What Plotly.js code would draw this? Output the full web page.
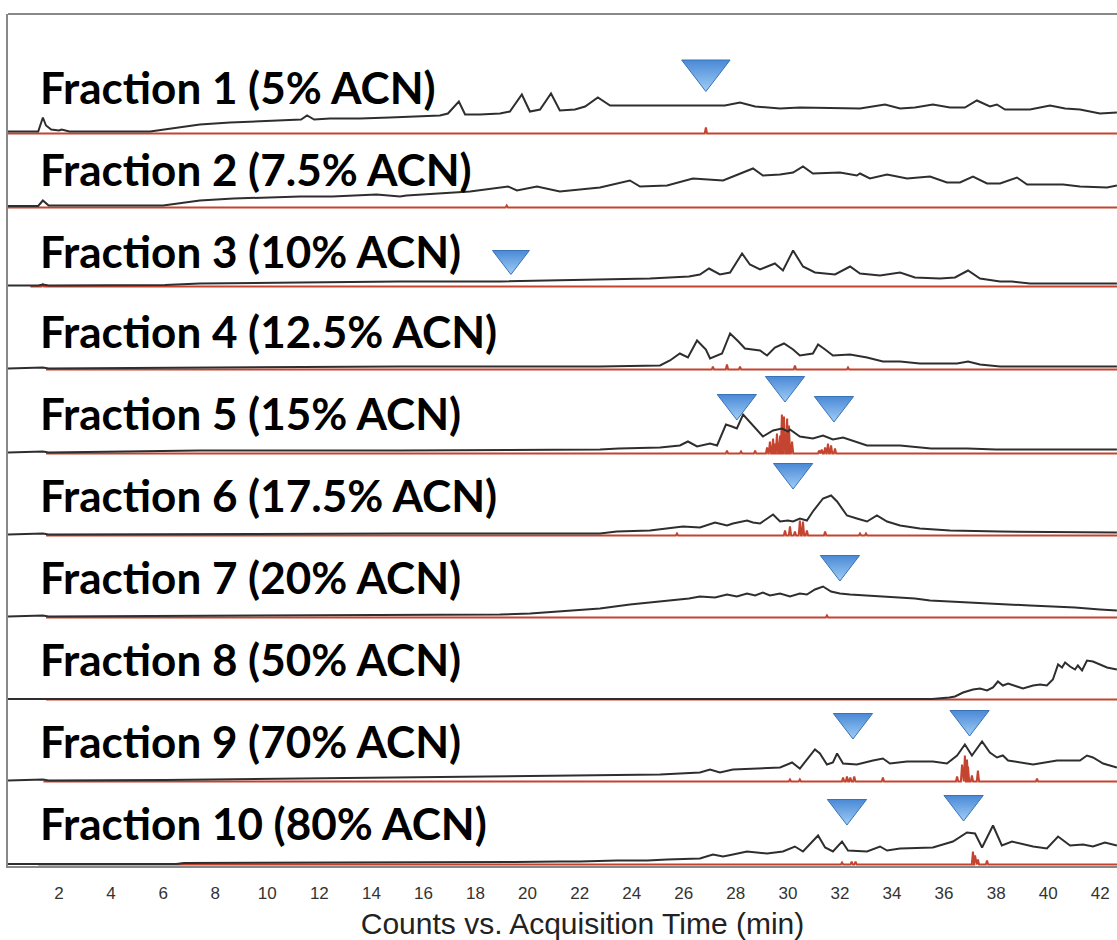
<!DOCTYPE html>
<html><head><meta charset="utf-8">
<script src="https://cdn.plot.ly/plotly-3.0.1.min.js"></script>
<style>html,body{margin:0;padding:0;overflow:hidden;background:#fff}#chart{width:1157px;height:940px}</style>
</head><body><div id="chart"></div>
<script>
// ---------- DATA ----------
const fractionLabels = ['Fraction 1 (5% ACN)','Fraction 2 (7.5% ACN)','Fraction 3 (10% ACN)','Fraction 4 (12.5% ACN)','Fraction 5 (15% ACN)','Fraction 6 (17.5% ACN)','Fraction 7 (20% ACN)','Fraction 8 (50% ACN)','Fraction 9 (70% ACN)','Fraction 10 (80% ACN)'];
const tickValues = [2,4,6,8,10,12,14,16,18,20,22,24,26,28,30,32,34,36,38,40,42];
const tickLabels = ['2','4','6','8','10','12','14','16','18','20','22','24','26','28','30','32','34','36','38','40','42'];
const xTitle = 'Counts vs. Acquisition Time (min)';

// black total-ion traces (time in min, relative counts)
const f1Time = [0.04,1.2,1.38,1.5,1.7,2.0,2.1,2.4,5.5,6.26,7.41,8.57,9.72,10.87,11.3,11.53,11.8,12.41,13.56,14.71,15.87,16.63,16.94,17.36,17.6,18.17,18.94,19.32,19.78,20.09,20.48,20.9,21.24,21.82,22.21,22.7,23.17,24.32,25.09,26.62,27.58,28.16,28.74,29.7,30.46,32.77,33.73,34.31,34.88,35.57,36.23,36.8,37.26,37.76,38.03,38.34,39.3,40.07,40.65,41.22,41.61,41.99,42.64];
const f1Counts = [2,2,16,8,4,3,4,2,2,5,9,11,12,13,14,18,14,15,15,16,17,18,20,32,19,19,20,22,39,22,24,40,23,24,27,36,28,28,28,28,28,31,27,25,26,25,29,25,26,29,26,26,33,27,29,24,24,28,25,24,22,20,21];
const f2Time = [0.04,1.2,1.38,1.6,6.0,6.26,7.41,8.7,10.0,11.26,12.5,13.8,14.2,15.1,15.35,17.79,19.25,19.59,20.36,21.24,22.78,23.93,24.32,25.36,26.35,27.51,28.66,29.04,29.7,30.2,30.58,30.96,32.0,32.65,32.77,33.15,33.81,34.58,35.46,36.11,36.61,37.11,37.65,38.15,38.8,39.19,40.57,41.22,42.26,42.64];
const f2Counts = [1.5,1.5,7,2,2,3,7,9,10,11,11,12,13,11,12,16,21,17,21,16,20,27,21,22,29,27,39,32,33,35,41,34,35,32,34,29,33,29,31,25,25,31,24,24,30,23,23,21,20,22];
const f3Time = [0.04,1.2,1.38,1.6,6.07,7.41,11.26,15.1,18.94,21.24,22.78,24.7,26.2,26.62,26.97,27.39,27.78,28.24,28.54,28.93,29.5,29.81,30.2,30.58,31.04,31.81,32.39,32.77,33.54,34.31,34.88,35.84,36.42,36.92,37.38,38.15,38.61,39.3,42.64];
const f3Counts = [1,1,2,1,1.5,3,4,5,5,6,7,8,10,12,18,12,14,33,22,17,23,16,36,20,14,12,20,13,11,14,9,8,9,16,8,5,5,3,3];
const f4Time = [0.04,1.38,1.6,6.07,7.41,15.1,22.78,25.09,25.47,25.85,26.16,26.51,26.85,27.01,27.47,27.78,28.1,28.35,28.93,29.2,29.5,29.85,30.2,30.46,30.96,31.16,31.43,31.73,32.39,33.04,33.65,34.31,35.07,36.5,36.92,37.38,38.15,42.64];
const f4Counts = [1,2,1,1.5,2,3,3,4,9,16,12,29,20,11,16,36,28,21,19,14,22,26,20,14,16,25,20,14,15,12,8,8,6,6,8,5,3,3];
const f5Time = [0.04,1.38,1.6,6.07,7.41,15.1,22.78,23.5,25.09,25.85,26.16,26.51,27.01,27.28,27.62,27.85,28.04,28.28,28.66,29.04,29.43,29.77,30.0,30.08,30.46,30.96,31.35,31.73,32.12,32.65,33.04,34.31,35.5,36.9,38.0,42.64];
const f5Counts = [1,2,1,2,3,3,4,5,6,8,12,7,10,8,29,27,25,39,28,17,23,25,22,24,17,15,18,14,16,11,8,8,5,5,4,4];
const f6Time = [0.04,1.38,1.6,6.07,15.1,22.78,23.43,24.7,25.36,25.97,26.62,27.2,27.66,27.89,28.43,28.66,28.93,29.43,29.7,30.0,30.2,30.46,30.73,30.96,31.35,31.66,31.89,32.27,32.65,33.04,33.42,33.81,34.31,35.07,36.23,38.15,42.64];
const f6Counts = [1,2,1,1.5,2,2,4,5,7,9,8,13,10,12,15,13,12,21,14,15,14,17,15,24,37,40,34,20,17,14,20,14,10,7,5,4,3];
const f7Time = [0.04,1.38,1.6,6.07,11.26,15.1,18.94,20.1,21.24,22.78,23.93,24.7,25.47,26.2,26.62,27.2,27.66,28.04,28.43,28.74,29.04,29.31,29.7,30.08,30.46,30.73,31.04,31.35,31.66,32.0,32.39,33.04,33.65,34.31,34.88,35.46,36.11,36.8,37.65,38.46,39.3,40.07,41.03,41.99,42.64];
const f7Counts = [1,2,1,1.5,2,3,3,4,6,9,13,15,17,19,21,20,23,21,24,22,25,22,24,21,24,23,28,31,26,24,23,22,21,20,19,17,16,15,14,13,12,11,10,8,7];
const f8Time = [0.04,35.54,36.2,36.42,36.73,37.11,37.38,37.65,37.88,38.07,38.26,38.46,38.8,39.03,39.42,39.69,39.95,40.18,40.38,40.53,40.65,40.84,41.03,41.14,41.3,41.49,41.72,41.99,42.26,42.64];
const f8Counts = [0.4,0.4,2,3,7,10,11,9,12,18,14,16,13,11,14,15,14,20,35,32,37,33,30,34,29,39,38,35,32,30];
const f9Time = [0.04,1.38,1.6,6.07,11.26,18.94,22.78,25.09,26.62,27.01,27.39,27.89,29.7,30.16,30.46,31.04,31.23,31.5,31.73,31.89,32.12,32.65,33.27,33.65,33.92,34.58,35.57,36.11,36.5,36.8,37.07,37.46,37.76,38.03,38.26,38.46,39.42,40.34,41.22,41.49,41.72,42.11,42.64];
const f9Counts = [1,2,1,1.5,3,5,6,7,9,12,9,12,14,19,13,32,28,17,19,28,18,17,21,23,18,20,20,18,26,37,26,40,29,24,26,21,17,21,21,26,24,18,14];
const f10Time = [0.04,6.5,6.8,17.3,18.3,19.5,21.24,22.0,23.43,24.6,25.36,26.62,27.12,27.51,27.89,28.43,29.2,29.81,30.27,30.58,31.16,31.43,31.73,32.08,32.31,33.04,33.54,33.81,34.31,35.57,36.34,36.88,37.19,37.46,37.88,38.22,38.61,39.42,39.95,40.38,40.84,41.34,41.72,42.18,42.64];
const f10Counts = [0.5,0.5,1.5,2,2.5,2.5,3,3,4,4,5,6,10,8,10,13,11,13,18,13,29,17,13,23,14,13,18,14,16,17,23,32,31,17,39,19,23,18,16,28,19,20,18,22,19];

// red extracted-ion peaks (time in min, relative counts)
const f1PeakTime = [26.85];            const f1PeakHeight = [6];
const f2PeakTime = [19.2];             const f2PeakHeight = [2];
const f3PeakTime = [1.38];             const f3PeakHeight = [2];
const f4PeakTime = [27.12,27.66,28.16,30.27,32.31]; const f4PeakHeight = [3,5,3,4,2];
const f5PeakTime = [27.66,28.2,28.74,29.2,29.31,29.43,29.5,29.58,29.7,29.77,29.85,29.97,30.04,30.16,31.2,31.3,31.43,31.54,31.66,31.81];
const f5PeakHeight = [3,2,3,6,12,15,10,20,18,39,37,35,28,12,3,4,6,10,8,5];
const f6PeakTime = [25.74,29.89,30.08,30.27,30.46,30.58,30.73,31.43,32.77,33.0];
const f6PeakHeight = [2,5,9,4,15,14,5,4,2,2];
const f7PeakTime = [31.5];             const f7PeakHeight = [2];
const f8PeakTime = [];                 const f8PeakHeight = [];
const f9PeakTime = [30.08,30.46,32.12,32.27,32.4,32.55,33.65,36.5,36.69,36.8,36.88,36.92,37.07,37.3,39.57];
const f9PeakHeight = [2,2,4,5,4,5,4,5,17,26,22,15,6,11,3];
const f10PeakTime = [32.08,32.45,32.6,37.11,37.19,37.3,37.65];
const f10PeakHeight = [2,3,3,13,9,5,4];

// blue triangle markers
const markerFraction = [1,3,5,5,5,6,7,9,9,10,10];
const markerTime  = [26.85,19.36,28.04,29.89,31.77,30.2,32.0,32.5,36.98,32.27,36.75];
const markerLevel = [63,28,50.5,68.5,48.5,63.5,53.5,59.5,62.5,56.5,60.5];

// ---------- BUILD ----------
const blackT = [f1Time,f2Time,f3Time,f4Time,f5Time,f6Time,f7Time,f8Time,f9Time,f10Time];
const blackC = [f1Counts,f2Counts,f3Counts,f4Counts,f5Counts,f6Counts,f7Counts,f8Counts,f9Counts,f10Counts];
const redT = [f1PeakTime,f2PeakTime,f3PeakTime,f4PeakTime,f5PeakTime,f6PeakTime,f7PeakTime,f8PeakTime,f9PeakTime,f10PeakTime];
const redH = [f1PeakHeight,f2PeakHeight,f3PeakHeight,f4PeakHeight,f5PeakHeight,f6PeakHeight,f7PeakHeight,f8PeakHeight,f9PeakHeight,f10PeakHeight];
const redStart = [0.04,0.04,0.9,1.5,1.5,1.5,1.5,1.5,1.4,1.2];

const W = 1157, H = 940, mL = 8, mR = 0, mT = 14, mB = 74;
const plotH = H - mT - mB;
const bounds = [14,135,209,288,371,455,537,619,701,783,866];
const labelCenter = [87,169,251,331,413,495,577,659,741,823];
const toPaper = py => (H - mB - py) / plotH;

const traces = [];
const layout = {
  width: W, height: H,
  margin: {l: mL, r: mR, t: mT, b: mB, pad: 0},
  paper_bgcolor: '#fff', plot_bgcolor: '#fff',
  showlegend: false,
  annotations: [], shapes: [],
  xaxis: {
    range: [0.04, 44.18], tickvals: tickValues, ticktext: tickLabels,
    showline: true, linecolor: '#888', linewidth: 2,
    ticks: 'outside', ticklen: 11, tickcolor: 'rgba(0,0,0,0)',
    tickfont: {family: 'Liberation Sans, Arial, sans-serif', size: 17, color: '#333'},
    title: {text: xTitle, font: {family: 'Liberation Sans, Arial, sans-serif', size: 30, color: '#222'}, standoff: 13},
    showgrid: false, zeroline: false, anchor: 'y10', fixedrange: true, automargin: false
  }
};

const redTraces = [], blackTraces = [];
for (let i = 0; i < 10; i++) {
  const yname = i === 0 ? 'y' : 'y' + (i + 1);
  const akey = i === 0 ? 'yaxis' : 'yaxis' + (i + 1);
  const hpx = bounds[i + 1] - bounds[i];
  layout[akey] = {
    domain: [toPaper(bounds[i + 1]), toPaper(bounds[i])],
    range: [-1.5, hpx - 1.5],
    showline: true, linecolor: '#888', linewidth: 2,
    showticklabels: false, ticks: '', showgrid: false, zeroline: false,
    anchor: 'x', fixedrange: true
  };
  const rx = [redStart[i]], ry = [0];
  const order = redT[i].map((t, k) => k).sort((a, b) => redT[i][a] - redT[i][b]);
  order.forEach(k => {
    const t = redT[i][k], h = redH[i][k];
    rx.push(t - 0.045, t, t + 0.045); ry.push(0, h, 0);
  });
  rx.push(44.18); ry.push(0);
  redTraces.push({x: rx, y: ry, xaxis: 'x', yaxis: yname, type: 'scatter', mode: 'lines',
    line: {color: '#c5442f', width: 2}, hoverinfo: 'skip'});
  blackTraces.push({x: blackT[i], y: blackC[i], xaxis: 'x', yaxis: yname, type: 'scatter', mode: 'lines',
    line: {color: '#2e2e2e', width: 2}, hoverinfo: 'skip'});
  layout.annotations.push({
    text: fractionLabels[i], xref: 'paper', yref: 'paper',
    x: (38 - mL) / (W - mL - mR), y: toPaper(labelCenter[i]),
    xanchor: 'left', yanchor: 'middle', showarrow: false,
    font: {family: 'Lato, Open Sans, sans-serif', size: 44, weight: 700, color: '#000'}
  });
}
traces.push(...redTraces, ...blackTraces);

// triangles
for (let j = 0; j < markerTime.length; j++) {
  const p = markerFraction[j];
  traces.push({
    x: [markerTime[j]], y: [markerLevel[j]], xaxis: 'x', yaxis: p === 1 ? 'y' : 'y' + p,
    type: 'scatter', mode: 'markers', cliponaxis: false, hoverinfo: 'skip',
    marker: {symbol: 'triangle-down', size: p === 1 ? 42 : (p === 3 ? 32 : 34),
      color: '#4a89d6', gradient: {type: 'vertical', color: '#9fcdf6'},
      line: {color: '#3a72b8', width: 1}}
  });
}

layout.shapes.push({type: 'line', xref: 'paper', yref: 'paper', x0: 0, x1: 1, y0: 1, y1: 1,
  line: {color: '#888', width: 2}});

Plotly.newPlot('chart', traces, layout, {displayModeBar: false, staticPlot: true});
</script>
</body></html>
